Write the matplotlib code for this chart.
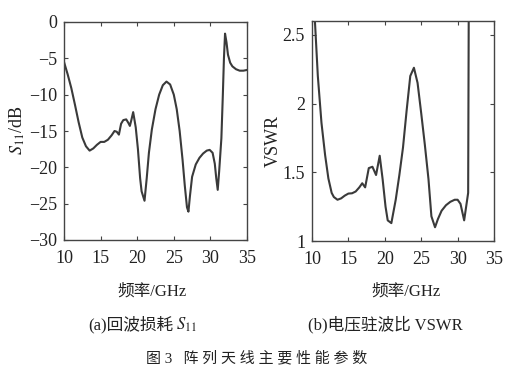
import matplotlib
matplotlib.use("Agg")
import matplotlib.pyplot as plt

# ---- data ----
freq_s11 = [10, 10.5, 11, 11.5, 12, 12.5, 13, 13.5, 14, 14.5, 15, 15.5, 16, 16.5, 16.9,
            17.2, 17.5, 17.8, 18.1, 18.5, 18.8, 19.0, 19.2, 19.45, 19.8, 20.1, 20.4, 20.6,
            21.0, 21.3, 21.6, 22.0, 22.5, 23.0, 23.5, 24.0, 24.5, 25.0, 25.4, 25.8, 26.2,
            26.5, 26.8, 27.0, 27.2, 27.5, 28.0, 28.5, 29.0, 29.5, 29.9, 30.3, 30.6, 30.8,
            31.0, 31.2, 31.5, 31.7, 31.85, 32.0, 32.2, 32.4, 32.7, 33.0, 33.5, 34.0, 34.5, 35.0]
s11_db = [-5.5, -7.2, -9.1, -11.4, -13.8, -15.9, -17.1, -17.7, -17.4, -16.9, -16.5, -16.5,
          -16.2, -15.6, -15.0, -15.1, -15.5, -14.0, -13.5, -13.4, -13.9, -14.3, -13.5, -12.4,
          -14.5, -17.5, -21.5, -23.3, -24.6, -21.5, -18.0, -14.8, -12.0, -10.0, -8.7, -8.2,
          -8.6, -10.0, -12.0, -15.0, -19.0, -22.5, -25.5, -26.1, -24.0, -21.3, -19.6, -18.7,
          -18.1, -17.7, -17.6, -18.0, -19.5, -21.5, -23.1, -20.5, -16.0, -10.0, -5.0, -1.6,
          -2.8, -4.5, -5.6, -6.1, -6.5, -6.7, -6.7, -6.6]

freq_vswr = [10.0, 10.4, 10.8, 11.3, 11.8, 12.25, 12.7, 13.0, 13.5, 14.0, 14.5, 15.0, 15.5,
             16.0, 16.5, 16.9, 17.3, 17.8, 18.3, 18.8, 19.3, 19.7, 20.1, 20.4, 20.9, 21.5,
             22.0, 22.5, 23.0, 23.5, 24.0, 24.5, 25.0, 25.5, 26.0, 26.4, 26.9, 27.3, 27.8,
             28.4, 29.0, 29.6, 30.0, 30.4, 30.9, 31.45, 31.55, 32.0, 33.0, 35.0]
vswr = [3.6, 2.6, 2.2, 1.86, 1.625, 1.455, 1.35, 1.32, 1.30, 1.31, 1.33, 1.345, 1.347,
        1.36, 1.39, 1.42, 1.39, 1.53, 1.54, 1.48, 1.62, 1.45, 1.25, 1.15, 1.13, 1.30,
        1.48, 1.68, 1.95, 2.2, 2.26, 2.15, 1.93, 1.7, 1.45, 1.18, 1.10, 1.16, 1.22,
        1.26, 1.285, 1.30, 1.30, 1.27, 1.15, 1.35, 3.0, 12.0, 3.0, 2.8]

xticks = [10, 15, 20, 25, 30, 35]
s11_ticks = [0, -5, -10, -15, -20, -25, -30]
vswr_ticks = [1, 1.5, 2, 2.5]
vswr_labels = ["1", "1.5", "2", "2.5"]

# ---- style ----
plt.rcParams['mathtext.fontset'] = 'stix'
SERIF = ['Liberation Serif', 'Noto Sans CJK SC']
plt.rcParams['font.family'] = SERIF
W, H = 520, 390
fig = plt.figure(figsize=(W / 100, H / 100), dpi=100)
fig.patch.set_facecolor('white')
TXT = '#222222'

def style(ax):
    for s in ax.spines.values():
        s.set_color('#444444')
        s.set_linewidth(1.0)
    ax.tick_params(direction='in', length=3, width=0.8, color='#444444',
                   top=True, right=True, labelsize=13, labelcolor=TXT)
    ax.tick_params(axis='x', pad=7)
    ax.tick_params(axis='y', pad=5)

ax1 = fig.add_axes([64 / W, 1 - 240 / H, 183 / W, 218 / H])
ax1.plot(freq_s11, s11_db, color='#3a3a3a', lw=1.5)
ax1.set_xlim(10, 35)
ax1.set_ylim(-30, 0)
ax1.set_xticks(xticks)
ax1.set_yticks(s11_ticks)
ax1.set_yticklabels(["0" if v == 0 else "\u2212%d" % (-v) for v in s11_ticks])
style(ax1)

ax2 = fig.add_axes([312 / W, 1 - 241 / H, 182 / W, 220 / H])
ax2.plot(freq_vswr, vswr, color='#3a3a3a', lw=1.5)
ax2.set_xlim(10, 35)
ax2.set_ylim(1, 2.6)
ax2.set_xticks(xticks)
ax2.set_yticks(vswr_ticks)
ax2.set_yticklabels(vswr_labels)
style(ax2)

# y labels
fig.text(17 / W, 1 - 130 / H, r'$S_{11}$/dB', rotation=90, ha='center', va='center',
         fontsize=13, color=TXT)
fig.text(273 / W, 1 - 141 / H, 'VSWR', rotation=90, ha='center', va='center',
         fontsize=13, color=TXT)

# x labels
fig.text(152 / W, 1 - 292 / H, '频率/GHz', ha='center', va='center', fontsize=12,
         family=SERIF, color=TXT)
fig.text(406 / W, 1 - 292 / H, '频率/GHz', ha='center', va='center', fontsize=12,
         family=SERIF, color=TXT)

# sub captions
fig.text(173 / W, 1 - 325 / H, '(a)回波损耗', ha='right', va='center',
         fontsize=12, family=SERIF, color=TXT)
fig.text(176 / W, 1 - 325 / H, r'$S_{11}$', ha='left', va='center',
         fontsize=12, color=TXT)
fig.text(385 / W, 1 - 325 / H, '(b)电压驻波比 VSWR', ha='center', va='center',
         fontsize=12, family=SERIF, color=TXT)
fig.text(257 / W, 1 - 358 / H, '图 3   阵 列 天 线 主 要 性 能 参 数', ha='center', va='center',
         fontsize=10.8, family=SERIF, color=TXT)

fig.savefig('out.png', dpi=100, facecolor='white')
